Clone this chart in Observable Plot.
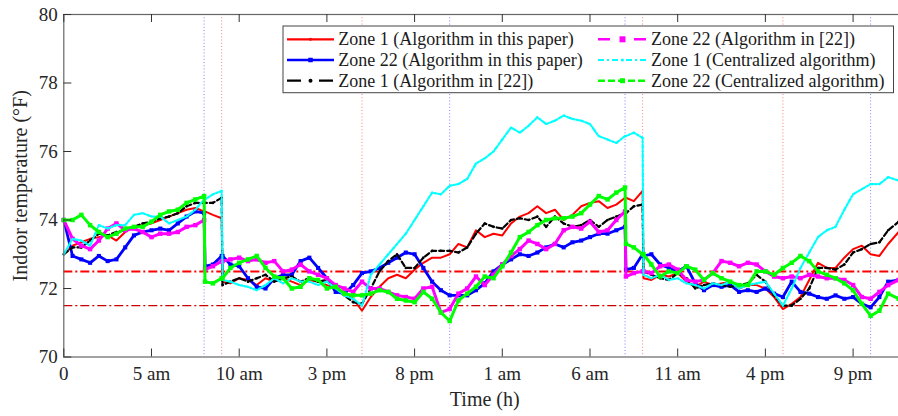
<!DOCTYPE html>
<html><head><meta charset="utf-8">
<script src="https://cdn.jsdelivr.net/npm/d3@7"></script>
<script src="https://cdn.jsdelivr.net/npm/@observablehq/plot@0.6"></script>
<style>
html,body{margin:0;padding:0;background:#fff;overflow:hidden;width:898px;height:416px}
#chart{position:relative;width:898px;height:416px;overflow:hidden}
#chart svg{max-width:none !important;display:block}
</style></head><body><div id="chart"></div>
<script>
// sample times (h): half-hour grid plus the instants right after the set-point steps
const hours = [...d3.range(0, 47.5, 0.5), 8.05, 9.05, 32.05, 33.05, 47.6].sort((a, b) => a - b);

// rows: 0–7.5 | 8,8.05,8.5,9,9.05,9.5 | 10–21.5 | 22–31.5 | 32,32.05,32.5,33,33.05,33.5 | 34–47,47.6
const zone1Paper = [
  73.0, 73.25, 73.35, 73.45, 73.5, 73.55, 73.4, 73.65, 73.8, 73.85, 73.9, 74.0, 74.1, 74.2, 74.3, 74.35,
  74.25, 74.25, 74.15, 74.05, 72.2, 72.15,
  72.3, 72.25, 72.1, 72.3, 72.2, 72.3, 72.2, 72.1, 72.25, 72.2, 72.1, 72.0, 71.9, 71.7, 71.35, 71.75, 72.05, 72.3, 72.4, 72.3, 72.55, 72.75, 72.9, 72.9,
  73.0, 73.3, 73.2, 73.7, 73.5, 73.6, 73.55, 73.9, 74.1, 74.2, 74.4, 74.2, 74.3, 74.0, 74.15, 74.4, 74.5, 74.55, 74.35, 74.45,
  74.65, 74.65, 74.55, 74.85, 72.3, 72.25,
  72.4, 72.35, 72.45, 72.2, 72.05, 72.2, 72.1, 72.15, 72.2, 72.0, 72.1, 72.1, 72.0, 71.75, 71.4, 71.55, 71.75, 72.25, 72.75, 72.6, 72.6, 72.9, 73.15, 73.25, 73.0, 72.95, 73.3, 73.65
];
const zone22Paper = [
  74.0, 72.95, 72.85, 72.75, 72.95, 72.8, 72.85, 73.2, 73.55, 73.65, 73.7, 73.75, 73.7, 73.9, 74.1, 74.25,
  74.2, 72.65, 72.7, 72.95, 72.95, 72.7,
  72.65, 72.3, 72.05, 72.0, 72.3, 72.4, 72.4, 72.8, 72.9, 72.6, 72.3, 71.9, 71.85, 72.1, 72.45, 72.5, 72.6, 72.75, 72.9, 73.05, 73.0, 72.6, 72.2, 71.95,
  71.8, 71.8, 71.8, 71.95, 72.15, 72.5, 72.7, 72.85, 73.0, 72.95, 73.05, 73.2, 73.3, 73.2, 73.35, 73.4, 73.5, 73.6, 73.6, 73.7,
  73.8, 72.55, 72.6, 73.0, 72.95, 73.0,
  72.7, 72.6, 72.5, 72.65, 72.15, 71.95, 72.1, 72.05, 72.1, 71.9, 71.95, 71.9, 72.0, 71.85, 71.75, 72.2, 71.9, 71.85, 71.75, 71.7, 71.8, 71.7, 71.75, 71.55, 71.45, 71.75, 72.2, 72.25
];
const zone1Ref = [
  73.0, 73.2, 73.2, 73.4, 73.6, 73.55, 73.65, 73.7, 73.8, 73.9, 73.95, 74.05, 74.1, 74.2, 74.4, 74.5,
  74.5, 74.5, 74.5, 74.65, 72.1, 72.2,
  72.3, 72.2, 72.3, 72.4, 72.2, 72.3, 72.35, 72.2, 72.3, 72.2, 72.25, 72.0, 71.8, 71.6, 71.55, 72.0, 72.5, 72.8, 73.0, 72.6, 72.6, 72.9, 73.1, 73.1,
  73.1, 73.05, 73.2, 73.6, 73.9, 73.8, 73.75, 74.0, 74.05, 74.0, 74.1, 73.8, 74.1, 73.9, 73.8, 73.85, 74.0, 73.8, 74.0, 74.1,
  74.2, 74.2, 74.4, 74.45, 72.5, 72.4,
  72.3, 72.25, 72.45, 72.3, 72.0, 72.1, 72.15, 72.1, 72.05, 72.1, 72.15, 72.4, 72.2, 71.8, 71.5, 71.5, 71.7, 72.0, 72.6, 72.6, 72.55, 72.7, 73.05, 73.15, 73.3, 73.35, 73.7, 73.95
];
const zone22Ref = [
  74.0, 73.45, 73.25, 73.15, 73.4, 73.75, 73.9, 73.7, 73.75, 73.65, 73.5, 73.6, 73.6, 73.65, 73.8, 73.85,
  74.0, 72.55, 72.65, 72.8, 72.8, 72.85,
  72.9, 72.8, 72.85, 72.75, 72.8, 72.5, 72.55, 72.7, 72.5, 72.4, 72.3, 72.1, 72.0, 71.9, 72.2, 72.0, 72.0, 71.9, 71.8, 71.75, 71.7, 72.0, 72.05, 71.3,
  71.4, 71.85, 72.0, 72.35, 72.1, 72.4, 72.7, 72.95, 73.15, 73.4, 73.3, 73.15, 73.3, 73.7, 73.8, 73.75, 73.95, 73.65, 73.7, 74.0,
  74.25, 72.35, 72.45, 72.5, 72.5, 72.45,
  72.65, 72.7, 72.55, 72.25, 72.2, 72.25, 72.45, 72.8, 72.75, 72.65, 72.75, 72.7, 72.5, 72.35, 72.3, 72.35, 72.3, 72.4, 72.35, 72.3, 72.3, 72.25, 72.1, 71.75, 71.7, 71.9, 72.1, 72.25
];
const zone1Central = [
  73.0, 73.45, 73.4, 73.25, 73.85, 73.75, 73.85, 73.85, 74.15, 74.2, 74.1, 74.1, 73.9, 74.0, 74.1, 74.3,
  74.6, 74.6, 74.75, 74.85, 72.25, 72.2,
  72.1, 72.05, 71.95, 72.1, 72.3, 72.15, 72.3, 72.2, 72.2, 72.1, 72.2, 72.0, 71.8, 71.7, 71.5, 72.4, 72.7, 73.0, 73.3, 73.6, 74.0, 74.4, 74.8, 74.75,
  75.0, 75.05, 75.2, 75.65, 75.8, 76.0, 76.35, 76.7, 76.55, 76.75, 77.0, 76.8, 76.9, 77.05, 76.95, 76.9, 76.8, 76.45, 76.35, 76.25,
  76.45, 76.45, 76.55, 76.4, 72.4, 72.3,
  72.4, 72.25, 72.3, 72.15, 72.1, 72.0, 72.15, 72.1, 72.2, 72.0, 72.1, 72.15, 72.2, 71.85, 71.5, 72.0, 72.6, 73.05, 73.5, 73.7, 73.8, 74.3, 74.75, 74.9, 75.05, 75.05, 75.25, 75.15
];
const zone22Central = [
  74.0, 74.0, 74.15, 73.85, 73.65, 73.5, 73.6, 73.75, 73.8, 73.8, 73.95, 74.15, 74.25, 74.3, 74.5, 74.6,
  74.7, 72.2, 72.15, 72.3, 72.3, 72.6,
  72.75, 72.85, 72.95, 72.6, 72.35, 72.3, 72.0, 72.05, 72.3, 72.25, 72.0, 72.05, 71.85, 71.8, 71.8, 71.85, 71.95, 71.9, 71.7, 71.65, 71.6, 71.9, 71.7, 71.3,
  71.05, 71.65, 71.85, 72.05, 72.35, 72.3, 72.65, 73.05, 73.5, 73.65, 73.85, 74.0, 74.05, 74.05, 74.1, 74.2, 74.45, 74.7, 74.6, 74.8,
  74.95, 73.3, 73.2, 73.0, 73.0, 72.7,
  72.35, 72.5, 72.45, 72.65, 72.55, 72.25, 72.45, 72.3, 72.2, 72.1, 72.1, 72.5, 72.5, 72.4, 72.6, 72.75, 72.95, 72.8, 72.5, 72.4, 72.3, 72.15, 71.95, 71.55, 71.2, 71.35, 71.85, 71.7
];

const seriesNames = [
  "Zone 1 (Algorithm in this paper)", "Zone 22 (Algorithm in this paper)", "Zone 1 (Algorithm in [22])",
  "Zone 22 (Algorithm in [22])", "Zone 1 (Centralized algorithm)", "Zone 22 (Centralized algorithm)"
];
const seriesValues = [zone1Paper, zone22Paper, zone1Ref, zone22Ref, zone1Central, zone22Central];
const seriesColors = ["#ff0000", "#0000ff", "#000000", "#ff00ff", "#00ffff", "#00ff00"];
const seriesWidths = [2, 2.8, 2.2, 3, 2.2, 3];
const seriesDash = [null, null, "5,3", null, "4,2,1.5,2", null];
const seriesMarker = [null, "square", "circle", "square", "circle", "square"];
const seriesMarkerR = [0, 2.3, 1.3, 2.5, 1.1, 2.5];

const xTicks = [0, 5, 10, 15, 20, 25, 30, 35, 40, 45];
const xTickLabels = ["0", "5 am", "10 am", "3 pm", "8 pm", "1 am", "6 am", "11 am", "4 pm", "9 pm"];
const yTicks = [70, 72, 74, 76, 78, 80];
const zone22Steps = [8, 22, 32, 46];
const zone1Steps = [9, 17, 33, 41];
const upperBound = [72.5];
const lowerBound = [71.5];

const rows = seriesValues.flatMap((vals, s) => vals.map((v, i) => ({t: hours[i], v, s})));

const W = 910, H = 416;
const FONT = "'Liberation Serif', 'Times New Roman', serif";
const frameW = 905.2 - 63.3, frameH = 356.5 - 14;

const seriesMarks = seriesValues.flatMap((_, s) => {
  const d = rows.filter(r => r.s === s);
  const out = [Plot.line(d, {
    x: "t", y: "v", stroke: seriesColors[s], strokeWidth: seriesWidths[s],
    strokeDasharray: seriesDash[s], strokeLinejoin: "round"
  })];
  if (seriesMarker[s]) out.push(Plot.dot(d, {x: "t", y: "v", symbol: seriesMarker[s], r: seriesMarkerR[s], fill: seriesColors[s], stroke: "none"}));
  return out;
});

const plot = Plot.plot({
  width: W, height: H,
  marginLeft: 63.3, marginRight: W - 905.2, marginTop: 14, marginBottom: H - 356.5,
  x: {domain: [0, 48]},
  y: {domain: [70, 80]},
  style: {fontFamily: FONT, background: "white", color: "#262626"},
  marks: [
    Plot.ruleX(zone22Steps, {x: d => d, stroke: "#0000ff", strokeOpacity: 0.5, strokeDasharray: "1,2.2"}),
    Plot.ruleX(zone1Steps, {x: d => d, stroke: "#ff0000", strokeOpacity: 0.5, strokeDasharray: "1,2.2"}),
    Plot.ruleY(upperBound, {y: d => d, stroke: "#ff0000", strokeWidth: 2, strokeDasharray: "9,3,2,3"}),
    Plot.ruleY(lowerBound, {y: d => d, stroke: "#cc0000", strokeWidth: 1.2, strokeDasharray: "9,3,2,3"}),
    ...seriesMarks,
    Plot.frame({stroke: "#666", strokeWidth: 1.2}),
    Plot.tickX(xTicks, {x: d => d, insetTop: frameH - 8, stroke: "#333"}),
    Plot.tickX(xTicks, {x: d => d, insetBottom: frameH - 8, stroke: "#333"}),
    Plot.tickY(yTicks, {y: d => d, insetRight: frameW - 8, stroke: "#333"}),
    Plot.axisX(xTicks, {anchor: "bottom", tickSize: 0, tickPadding: 9, fontSize: 19, label: null,
      tickFormat: d => xTickLabels[xTicks.indexOf(d)]}),
    Plot.axisY(yTicks, {anchor: "left", tickSize: 0, tickPadding: 6, fontSize: 19, label: null}),
    Plot.text(["Time (h)"], {frameAnchor: "bottom", dy: 43, fontSize: 20, lineAnchor: "middle", textAnchor: "middle", fill: "#262626"}),
    Plot.text(["Indoor temperature (°F)"], {frameAnchor: "left", dx: -43, rotate: -90, fontSize: 20, lineAnchor: "middle", textAnchor: "middle", fill: "#262626"})
  ]
});
document.getElementById("chart").appendChild(plot);

// legend (inside plot, top right)
const svg = d3.select(plot);
const lg = svg.append("g").attr("font-family", FONT).attr("font-size", 18).attr("fill", "#1a1a1a").attr("text-anchor", "start");
lg.append("rect").attr("x", 283).attr("y", 26).attr("width", 610.5).attr("height", 66.7)
  .attr("fill", "white").attr("stroke", "#444").attr("stroke-width", 1);
const colX = [287, 598], textX = [338.3, 651], rowY = [39.3, 60, 80.7];
const legendDash = [null, null, "14,18", "12,24", "6,3,2,3", "7,3"];
const legendMarker = ["dot", "square", "dot", "square", "dot", "square"];
const legendMarkerSize = [1.5, 4.5, 2, 6, 1.5, 5];
seriesNames.forEach((name, i) => {
  const c = Math.floor(i / 3), r = i % 3;
  const x0 = colX[c], x1 = c === 0 ? 334 : 647, y = rowY[r], xm = (x0 + x1) / 2;
  lg.append("line").attr("x1", x0).attr("x2", x1).attr("y1", y).attr("y2", y)
    .attr("stroke", seriesColors[i]).attr("stroke-width", i === 1 || i === 3 || i === 5 ? 2.6 : 2.2)
    .attr("stroke-dasharray", legendDash[i]);
  const m = legendMarkerSize[i];
  if (legendMarker[i] === "square") {
    lg.append("rect").attr("x", xm - m / 2).attr("y", y - m / 2).attr("width", m).attr("height", m).attr("fill", seriesColors[i]);
  } else {
    lg.append("circle").attr("cx", xm).attr("cy", y).attr("r", m).attr("fill", seriesColors[i]);
  }
  lg.append("text").attr("x", textX[c]).attr("y", y + 6).attr("text-anchor", "start").text(name);
});
</script></body></html>
